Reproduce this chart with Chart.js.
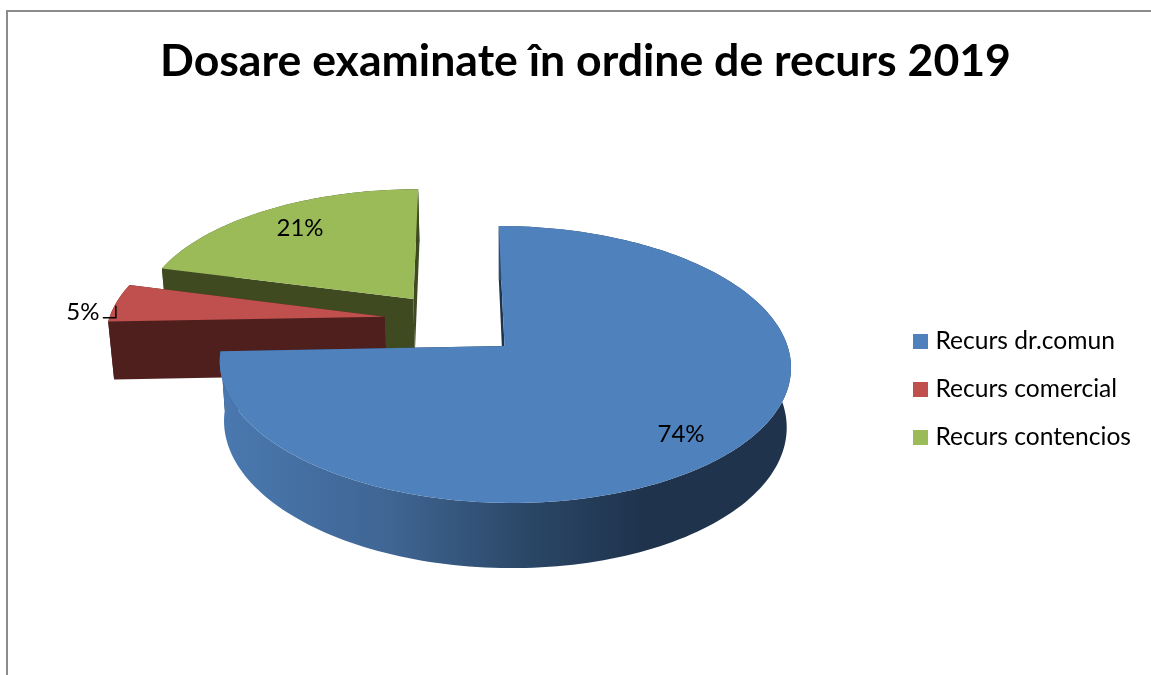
<!DOCTYPE html>
<html>
<head>
<meta charset="utf-8">
<script src="https://cdn.jsdelivr.net/npm/chart.js@4"></script>
<style>
  html, body { margin: 0; background: #fff; overflow: hidden; }
  canvas { display: block; }
</style>
</head>
<body>
<canvas id="myChart" width="1151" height="675"></canvas>
<script>
const categories = ['Recurs dr.comun', 'Recurs comercial', 'Recurs contencios'];
const valori = [74.4, 4.7, 20.9];
const etichete = ['74%', '5%', '21%'];
const culori = ['#4f81bd', '#c0504d', '#9bbb59'];
const culoriCut = ['#1f334d', '#4f1f1e', '#3f4a21'];

// slices pulled out of the pie, as a fraction of the radius
const explode = [0, 0.485, 0.49];
const explodeTurn = [0, 20.9, -4.6];
const labelRadius = [0.82, 1.105, 0.775];
const labelTurn = [3, -4.3, 0.7];

// tilted view of the pie, with some perspective
const view = { cx: 504.5, cy: 346, rx: 283, ry: 136, persp: 0.1336, shear: 6.5, depth: 59, baseX: 0.985, baseY: 1.039 };

function project(u, v, base) {
  const den = 1 - view.persp * v;
  let x = view.cx + (view.rx * u + view.shear * v) / den;
  let y = view.cy + view.ry * v / den;
  if (base) {
    x = view.cx + view.baseX * (x - view.cx);
    y = view.cy + view.depth + view.baseY * (y - view.cy);
  }
  return [x, y];
}

function fillPoly(ctx, pts, fill) {
  ctx.beginPath();
  pts.forEach((p, i) => i ? ctx.lineTo(p[0], p[1]) : ctx.moveTo(p[0], p[1]));
  ctx.closePath();
  ctx.fillStyle = fill;
  ctx.fill();
}

function sliceGeometry(arc, i) {
  const mid = (arc.startAngle + arc.endAngle) / 2 + explodeTurn[i] * Math.PI / 180;
  const ou = Math.cos(mid) * explode[i];
  const ov = Math.sin(mid) * explode[i];
  const steps = Math.ceil((arc.endAngle - arc.startAngle) * 40);
  const rim = [];
  for (let s = 0; s <= steps; s++) {
    const a = arc.startAngle + (arc.endAngle - arc.startAngle) * s / steps;
    rim.push([ou + Math.cos(a), ov + Math.sin(a)]);
  }
  return { ou, ov, rim };
}

// legend swatch, a canvas so it can sit further from the text than Chart.js puts it
function swatch(color) {
  const c = document.createElement('canvas');
  c.width = 15;
  c.height = 15;
  const g = c.getContext('2d');
  g.fillStyle = color;
  g.fillRect(0, 0, 15, 15);
  return c;
}

const pie3d = {
  id: 'pie3d',
  beforeDraw(chart) {
    const ctx = chart.ctx;
    ctx.save();
    ctx.strokeStyle = '#8c8c8c';
    ctx.lineWidth = 2;
    ctx.beginPath();
    ctx.moveTo(7, 675);
    ctx.lineTo(7, 11);
    ctx.lineTo(1151, 11);
    ctx.stroke();
    ctx.restore();
  },
  beforeDatasetsDraw(chart) {
    const ctx = chart.ctx;
    const arcs = chart.getDatasetMeta(0).data;
    // back to front: green, red, blue
    [2, 1, 0].forEach(i => {
      const g = sliceGeometry(arcs[i], i);
      const top = g.rim.map(p => project(p[0], p[1], false));
      const bottom = g.rim.map(p => project(p[0], p[1], true));
      const apexTop = project(g.ou, g.ov, false);
      const apexBottom = project(g.ou, g.ov, true);

      fillPoly(ctx, [apexTop, top[0], bottom[0], apexBottom], culoriCut[i]);
      fillPoly(ctx, [apexTop, top[top.length - 1], bottom[bottom.length - 1], apexBottom], culoriCut[i]);

      let wall = culoriCut[i];
      if (i === 0) {
        wall = ctx.createLinearGradient(219, 0, 792, 0);
        wall.addColorStop(0, '#4a79b0');
        wall.addColorStop(0.3, '#3f6593');
        wall.addColorStop(0.53, '#2b4868');
        wall.addColorStop(0.74, '#1f334d');
        wall.addColorStop(1, '#1f334d');
      }
      fillPoly(ctx, top.concat(bottom.slice().reverse()), wall);
      fillPoly(ctx, [apexTop].concat(top), culori[i]);
    });

    ctx.save();
    ctx.fillStyle = '#000';
    ctx.font = '24px Lato';
    ctx.textAlign = 'center';
    ctx.textBaseline = 'middle';
    arcs.forEach((arc, i) => {
      const g = sliceGeometry(arc, i);
      const mid = (arc.startAngle + arc.endAngle) / 2 + labelTurn[i] * Math.PI / 180;
      const p = project(g.ou + Math.cos(mid) * labelRadius[i], g.ov + Math.sin(mid) * labelRadius[i], false);
      ctx.fillText(etichete[i], p[0], p[1]);
      if (labelRadius[i] > 1) {
        // leader elbow of the outside label
        ctx.strokeStyle = '#000';
        ctx.lineWidth = 1.5;
        ctx.beginPath();
        ctx.moveTo(p[0] + 20, p[1] + 6);
        ctx.lineTo(p[0] + 33, p[1] + 6);
        ctx.lineTo(p[0] + 33, p[1] - 6);
        ctx.stroke();
      }
    });
    ctx.restore();
    return false;
  }
};

new Chart(document.getElementById('myChart'), {
  type: 'pie',
  data: {
    labels: categories,
    datasets: [{
      data: valori,
      backgroundColor: culori,
      borderWidth: 0
    }]
  },
  plugins: [pie3d],
  options: {
    responsive: false,
    animation: false,
    layout: { padding: { left: 30, right: 10, bottom: -68, top: 35 } },
    plugins: {
      tooltip: { enabled: false },
      title: {
        display: true,
        text: 'Dosare examinate în ordine de recurs 2019',
        color: '#000',
        font: { family: 'Lato', size: 44.6, weight: 'bold' },
        padding: { top: 0, bottom: 12.5 }
      },
      legend: {
        position: 'right',
        labels: {
          color: '#000',
          font: { family: 'Lato', size: 24.6 },
          usePointStyle: true,
          boxWidth: 5,
          boxHeight: 15,
          padding: 23.4,
          generateLabels: () => categories.map((text, i) => ({
            text,
            index: i,
            hidden: false,
            fontColor: '#000',
            fillStyle: culori[i],
            strokeStyle: culori[i],
            lineWidth: 0,
            pointStyle: swatch(culori[i])
          }))
        }
      }
    }
  }
});
</script>
</body>
</html>
